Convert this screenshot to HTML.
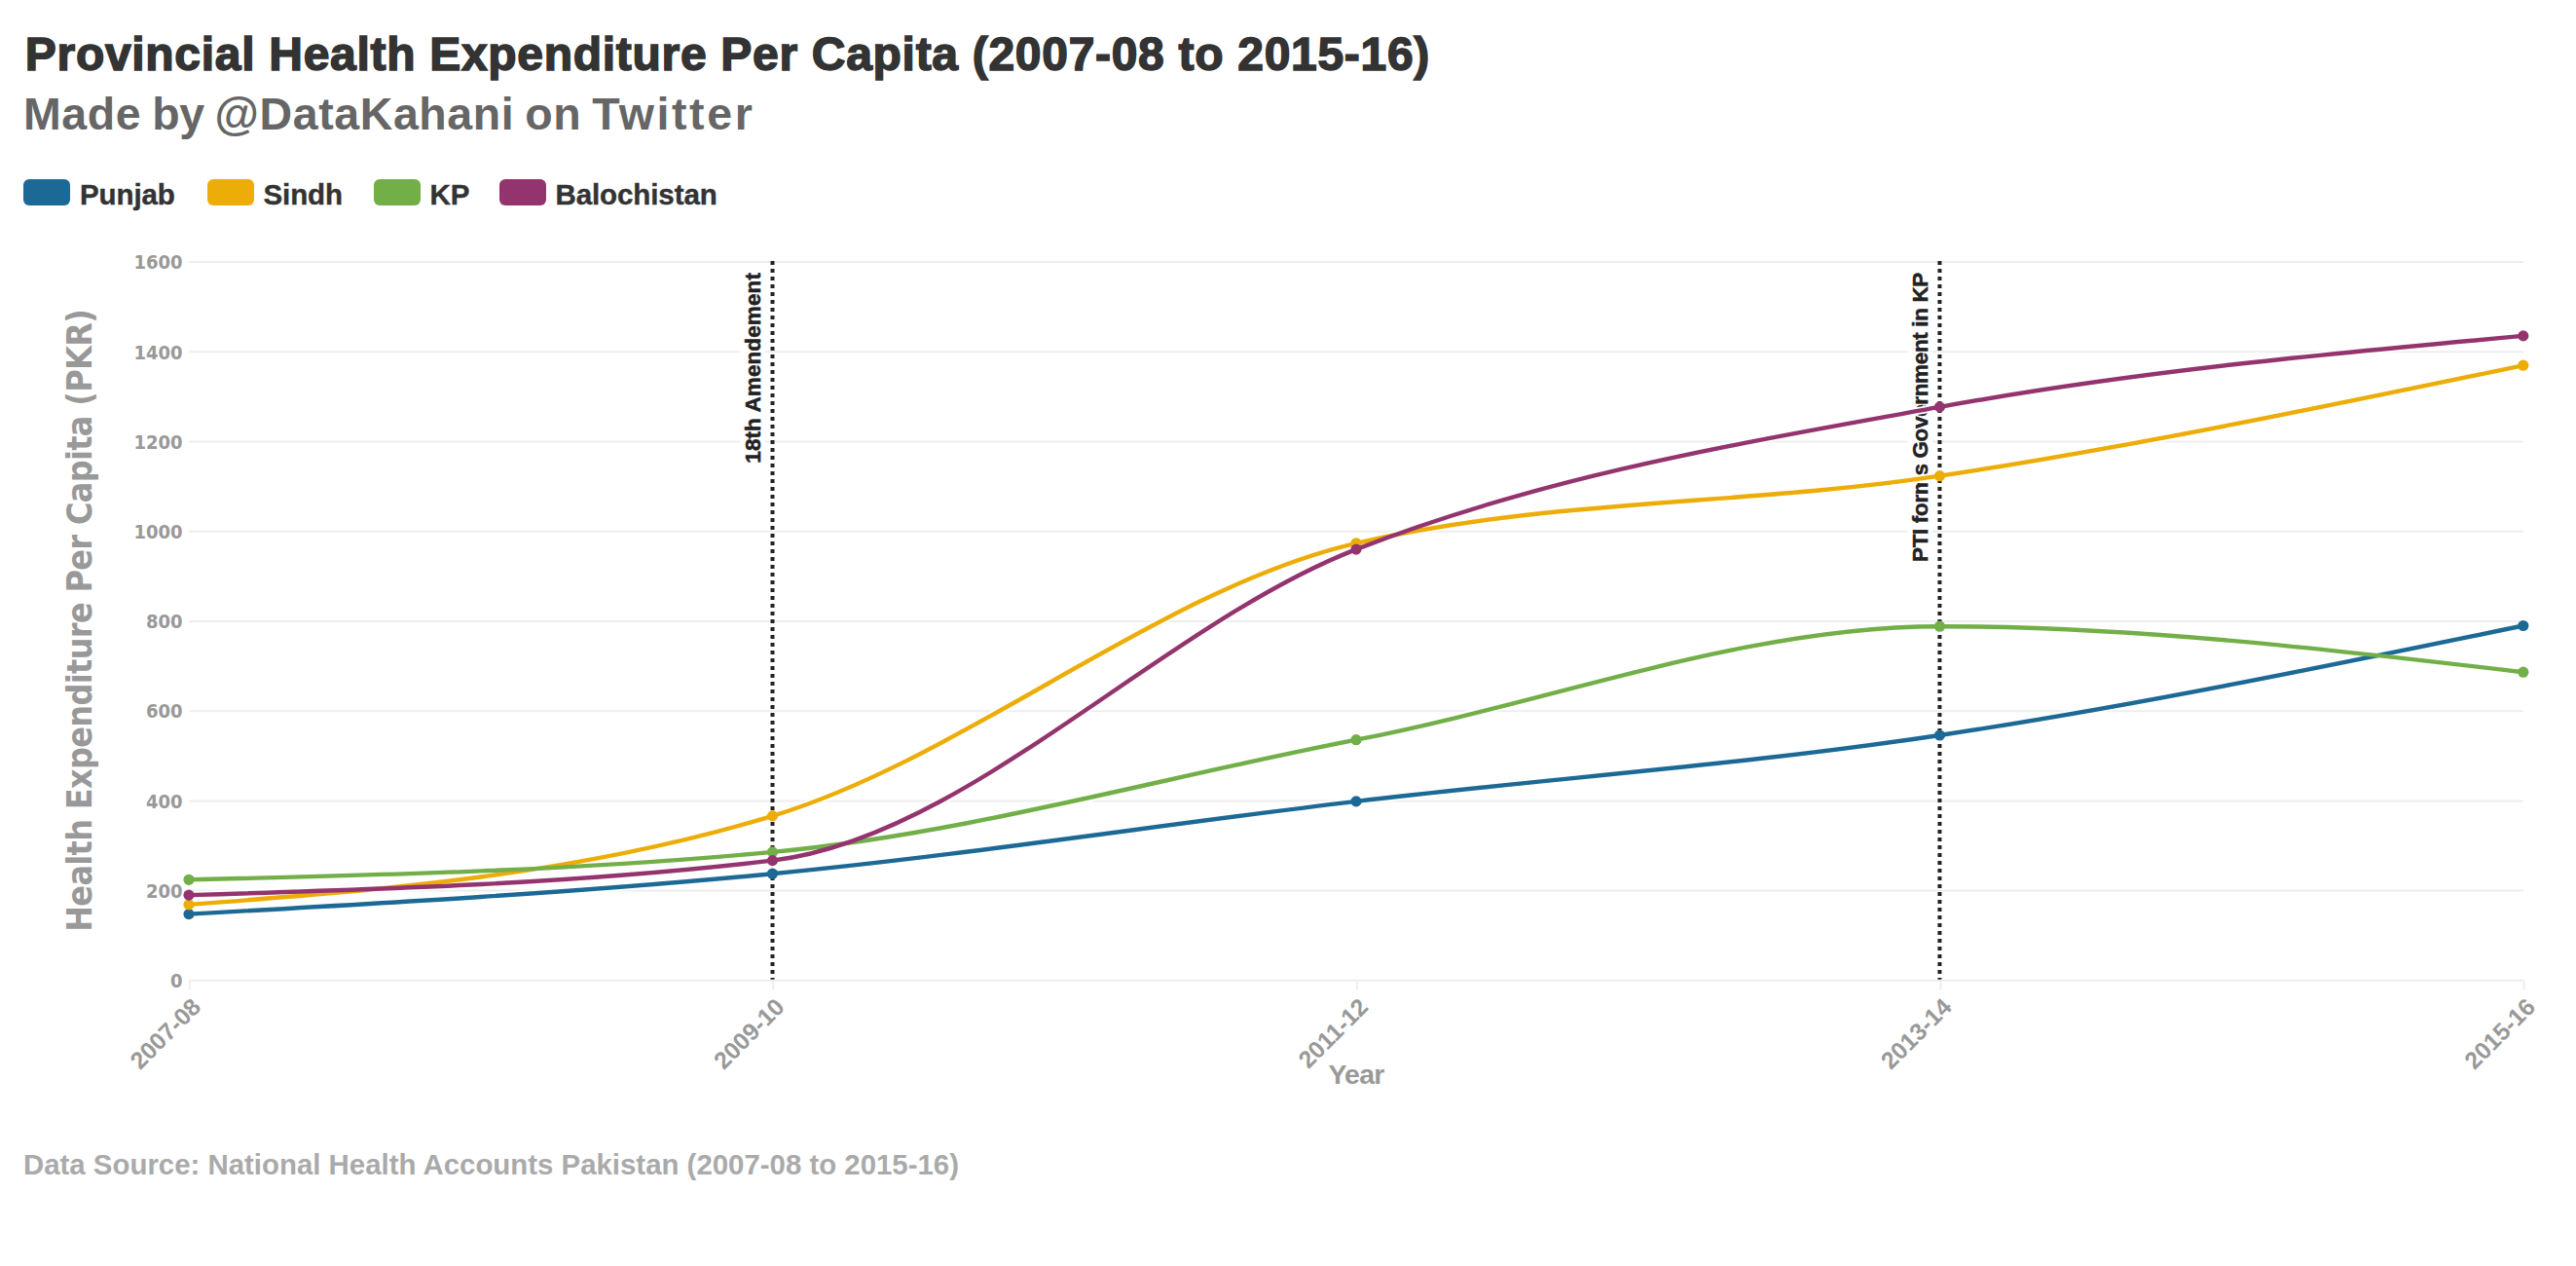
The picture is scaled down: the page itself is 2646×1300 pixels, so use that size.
<!DOCTYPE html>
<html lang="en">
<head>
<meta charset="utf-8">
<title>Provincial Health Expenditure Per Capita (2007-08 to 2015-16)</title>
<style>
html,body{margin:0;padding:0;background:#ffffff;}
body{width:2646px;height:1300px;position:relative;overflow:hidden;font-family:"Liberation Sans",sans-serif;}
.abs{position:absolute;white-space:nowrap;line-height:1;font-weight:bold;}
#title{left:25.8px;top:32.4px;font-size:48px;color:#333333;letter-spacing:0.7px;-webkit-text-stroke:1.5px #333333;}
#sub{left:24px;top:94px;font-size:46.5px;color:#666666;letter-spacing:0.6px;word-spacing:-2.6px;}
.sw{position:absolute;top:184px;width:48px;height:27px;border-radius:6px;}
.lt{position:absolute;top:184.5px;font-size:29.5px;letter-spacing:-0.1px;line-height:1;font-weight:bold;color:#333333;white-space:nowrap;-webkit-text-stroke:0.4px #333333;}
#foot{left:24px;top:1180.7px;font-size:29.4px;color:#aaaaaa;}
</style>
</head>
<body>
<div id="title" class="abs">Provincial Health Expenditure Per Capita (2007-08 to 2015-16)</div>
<div id="sub" class="abs">Made <span style="letter-spacing:-0.4px">by</span> @DataKahani on <span style="letter-spacing:2.6px">Twitter</span></div>
<div class="sw" style="left:24px;background:#1D6996"></div><div class="lt" style="left:82px">Punjab</div>
<div class="sw" style="left:213px;background:#EDAD08"></div><div class="lt" style="left:270.5px">Sindh</div>
<div class="sw" style="left:384px;background:#73AF48"></div><div class="lt" style="left:441.5px">KP</div>
<div class="sw" style="left:513px;background:#94346E"></div><div class="lt" style="left:570.5px">Balochistan</div>

<svg width="2646" height="1300" viewBox="0 0 2646 1300" style="position:absolute;left:0;top:0">
<line x1="194" x2="2592" y1="1006.8" y2="1006.8" stroke="#eeeeee" stroke-width="2"/>
<line x1="194" x2="2592" y1="914.6" y2="914.6" stroke="#eeeeee" stroke-width="2"/>
<line x1="194" x2="2592" y1="822.4" y2="822.4" stroke="#eeeeee" stroke-width="2"/>
<line x1="194" x2="2592" y1="730.2" y2="730.2" stroke="#eeeeee" stroke-width="2"/>
<line x1="194" x2="2592" y1="637.9" y2="637.9" stroke="#eeeeee" stroke-width="2"/>
<line x1="194" x2="2592" y1="545.7" y2="545.7" stroke="#eeeeee" stroke-width="2"/>
<line x1="194" x2="2592" y1="453.5" y2="453.5" stroke="#eeeeee" stroke-width="2"/>
<line x1="194" x2="2592" y1="361.3" y2="361.3" stroke="#eeeeee" stroke-width="2"/>
<line x1="194" x2="2592" y1="269.1" y2="269.1" stroke="#eeeeee" stroke-width="2"/>
<line x1="194.8" x2="194.8" y1="1006.8" y2="1016.8" stroke="#eeeeee" stroke-width="2"/>
<line x1="794.3" x2="794.3" y1="1006.8" y2="1016.8" stroke="#eeeeee" stroke-width="2"/>
<line x1="1393.8" x2="1393.8" y1="1006.8" y2="1016.8" stroke="#eeeeee" stroke-width="2"/>
<line x1="1993.2" x2="1993.2" y1="1006.8" y2="1016.8" stroke="#eeeeee" stroke-width="2"/>
<line x1="2592.6" x2="2592.6" y1="1006.8" y2="1016.8" stroke="#eeeeee" stroke-width="2"/>
<text x="187.6" y="1014.0" text-anchor="end" font-family="'DejaVu Sans Condensed', 'DejaVu Sans', sans-serif" font-weight="bold" font-stretch="condensed" font-size="20" fill="#999999">0</text>
<text x="187.6" y="921.8" text-anchor="end" font-family="'DejaVu Sans Condensed', 'DejaVu Sans', sans-serif" font-weight="bold" font-stretch="condensed" font-size="20" fill="#999999">200</text>
<text x="187.6" y="829.6" text-anchor="end" font-family="'DejaVu Sans Condensed', 'DejaVu Sans', sans-serif" font-weight="bold" font-stretch="condensed" font-size="20" fill="#999999">400</text>
<text x="187.6" y="737.4" text-anchor="end" font-family="'DejaVu Sans Condensed', 'DejaVu Sans', sans-serif" font-weight="bold" font-stretch="condensed" font-size="20" fill="#999999">600</text>
<text x="187.6" y="645.1" text-anchor="end" font-family="'DejaVu Sans Condensed', 'DejaVu Sans', sans-serif" font-weight="bold" font-stretch="condensed" font-size="20" fill="#999999">800</text>
<text x="187.6" y="552.9" text-anchor="end" font-family="'DejaVu Sans Condensed', 'DejaVu Sans', sans-serif" font-weight="bold" font-stretch="condensed" font-size="20" fill="#999999">1000</text>
<text x="187.6" y="460.7" text-anchor="end" font-family="'DejaVu Sans Condensed', 'DejaVu Sans', sans-serif" font-weight="bold" font-stretch="condensed" font-size="20" fill="#999999">1200</text>
<text x="187.6" y="368.5" text-anchor="end" font-family="'DejaVu Sans Condensed', 'DejaVu Sans', sans-serif" font-weight="bold" font-stretch="condensed" font-size="20" fill="#999999">1400</text>
<text x="187.6" y="276.3" text-anchor="end" font-family="'DejaVu Sans Condensed', 'DejaVu Sans', sans-serif" font-weight="bold" font-stretch="condensed" font-size="20" fill="#999999">1600</text>
<text transform="translate(94,637) rotate(-90)" text-anchor="middle" textLength="639.6" lengthAdjust="spacing" font-family="'DejaVu Sans Condensed', 'DejaVu Sans', sans-serif" font-weight="bold" font-stretch="condensed" font-size="35.6" fill="#999999">Health Expenditure Per Capita (PKR)</text>
<text transform="translate(207.8,1035.5) rotate(-45)" text-anchor="end" font-family="'Liberation Sans', sans-serif" font-weight="bold" font-size="24.6" fill="#999999">2007-08</text>
<text transform="translate(807.3,1035.5) rotate(-45)" text-anchor="end" font-family="'Liberation Sans', sans-serif" font-weight="bold" font-size="24.6" fill="#999999">2009-10</text>
<text transform="translate(1406.8,1035.5) rotate(-45)" text-anchor="end" font-family="'Liberation Sans', sans-serif" font-weight="bold" font-size="24.6" fill="#999999">2011-12</text>
<text transform="translate(2006.2,1035.5) rotate(-45)" text-anchor="end" font-family="'Liberation Sans', sans-serif" font-weight="bold" font-size="24.6" fill="#999999">2013-14</text>
<text transform="translate(2605.6,1035.5) rotate(-45)" text-anchor="end" font-family="'Liberation Sans', sans-serif" font-weight="bold" font-size="24.6" fill="#999999">2015-16</text>
<text x="1393" y="1112.7" text-anchor="middle" font-family="'Liberation Sans', sans-serif" font-weight="bold" font-size="28.4" letter-spacing="-0.7" fill="#999999">Year</text>
<line x1="793.5" x2="793.5" y1="268.1" y2="1005.8" stroke="#222222" stroke-width="4" stroke-dasharray="4 4"/>
<rect x="760.5" y="277" width="25" height="201" fill="#ffffff"/>
<text transform="translate(780.9,280) rotate(-90)" text-anchor="end" font-family="'Liberation Sans', sans-serif" font-weight="bold" font-size="22.5" letter-spacing="0.1" fill="#222222" stroke="#222222" stroke-width="0.5">18th Amendement</text>
<line x1="1992.4" x2="1992.4" y1="268.1" y2="1005.8" stroke="#222222" stroke-width="4" stroke-dasharray="4 4"/>
<rect x="1959.4" y="277" width="25" height="303" fill="#ffffff"/>
<text transform="translate(1979.8,280) rotate(-90)" text-anchor="end" font-family="'Liberation Sans', sans-serif" font-weight="bold" font-size="22.5" letter-spacing="-0.36" fill="#222222" stroke="#222222" stroke-width="0.5">PTI forms Government in KP</text>
<path d="M194.00,938.60C393.83,927.54,593.67,916.48,793.50,897.20C993.33,877.92,1193.17,846.60,1393.00,822.90C1592.80,799.20,1792.60,785.07,1992.40,755.00C2192.20,724.93,2392.00,683.72,2591.80,642.50" fill="none" stroke="#ffffff" stroke-width="8" stroke-linecap="round"/>
<path d="M194.00,928.90C393.83,913.73,593.67,898.57,793.50,837.90C993.33,777.23,1193.17,603.87,1393.00,557.80C1592.80,511.73,1792.60,519.13,1992.40,488.70C2192.20,458.27,2392.00,416.73,2591.80,375.20" fill="none" stroke="#ffffff" stroke-width="8" stroke-linecap="round"/>
<path d="M194.00,903.30C393.83,898.57,593.67,893.83,793.50,874.90C993.33,855.97,1193.17,798.32,1393.00,759.70C1592.80,721.09,1792.60,643.20,1992.40,643.20C2192.20,643.20,2392.00,666.70,2591.80,690.20" fill="none" stroke="#ffffff" stroke-width="8" stroke-linecap="round"/>
<path d="M194.00,919.10C393.83,913.18,593.67,907.27,793.50,883.60C993.33,859.93,1193.17,641.72,1393.00,564.10C1592.80,486.49,1792.60,454.43,1992.40,417.90C2192.20,381.37,2392.00,363.13,2591.80,344.90" fill="none" stroke="#ffffff" stroke-width="8" stroke-linecap="round"/>
<path d="M194.00,938.60C393.83,927.54,593.67,916.48,793.50,897.20C993.33,877.92,1193.17,846.60,1393.00,822.90C1592.80,799.20,1792.60,785.07,1992.40,755.00C2192.20,724.93,2392.00,683.72,2591.80,642.50" fill="none" stroke="#1D6996" stroke-width="4.4" stroke-linecap="round" stroke-linejoin="round"/>
<circle cx="194.0" cy="938.6" r="5.6" fill="#1D6996"/>
<circle cx="793.5" cy="897.2" r="5.6" fill="#1D6996"/>
<circle cx="1393.0" cy="822.9" r="5.6" fill="#1D6996"/>
<circle cx="1992.4" cy="755.0" r="5.6" fill="#1D6996"/>
<circle cx="2591.8" cy="642.5" r="5.6" fill="#1D6996"/>
<path d="M194.00,928.90C393.83,913.73,593.67,898.57,793.50,837.90C993.33,777.23,1193.17,603.87,1393.00,557.80C1592.80,511.73,1792.60,519.13,1992.40,488.70C2192.20,458.27,2392.00,416.73,2591.80,375.20" fill="none" stroke="#EDAD08" stroke-width="4.4" stroke-linecap="round" stroke-linejoin="round"/>
<circle cx="194.0" cy="928.9" r="5.6" fill="#EDAD08"/>
<circle cx="793.5" cy="837.9" r="5.6" fill="#EDAD08"/>
<circle cx="1393.0" cy="557.8" r="5.6" fill="#EDAD08"/>
<circle cx="1992.4" cy="488.7" r="5.6" fill="#EDAD08"/>
<circle cx="2591.8" cy="375.2" r="5.6" fill="#EDAD08"/>
<path d="M194.00,903.30C393.83,898.57,593.67,893.83,793.50,874.90C993.33,855.97,1193.17,798.32,1393.00,759.70C1592.80,721.09,1792.60,643.20,1992.40,643.20C2192.20,643.20,2392.00,666.70,2591.80,690.20" fill="none" stroke="#73AF48" stroke-width="4.4" stroke-linecap="round" stroke-linejoin="round"/>
<circle cx="194.0" cy="903.3" r="5.6" fill="#73AF48"/>
<circle cx="793.5" cy="874.9" r="5.6" fill="#73AF48"/>
<circle cx="1393.0" cy="759.7" r="5.6" fill="#73AF48"/>
<circle cx="1992.4" cy="643.2" r="5.6" fill="#73AF48"/>
<circle cx="2591.8" cy="690.2" r="5.6" fill="#73AF48"/>
<path d="M194.00,919.10C393.83,913.18,593.67,907.27,793.50,883.60C993.33,859.93,1193.17,641.72,1393.00,564.10C1592.80,486.49,1792.60,454.43,1992.40,417.90C2192.20,381.37,2392.00,363.13,2591.80,344.90" fill="none" stroke="#94346E" stroke-width="4.4" stroke-linecap="round" stroke-linejoin="round"/>
<circle cx="194.0" cy="919.1" r="5.6" fill="#94346E"/>
<circle cx="793.5" cy="883.6" r="5.6" fill="#94346E"/>
<circle cx="1393.0" cy="564.1" r="5.6" fill="#94346E"/>
<circle cx="1992.4" cy="417.9" r="5.6" fill="#94346E"/>
<circle cx="2591.8" cy="344.9" r="5.6" fill="#94346E"/>
</svg>
<div id="foot" class="abs">Data Source: National Health Accounts Pakistan (2007-08 to 2015-16)</div>
</body>
</html>
